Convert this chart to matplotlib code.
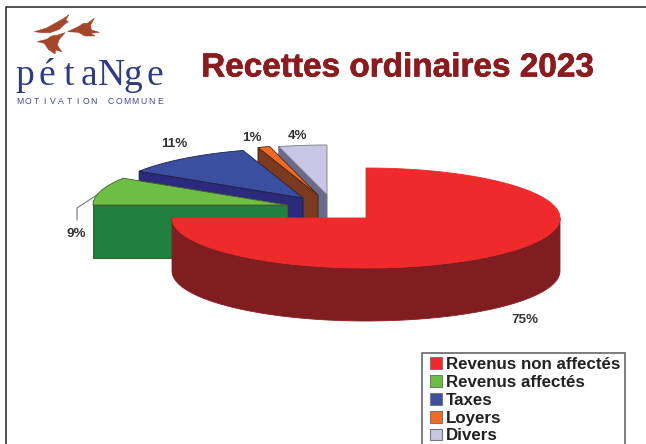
import numpy as np
import matplotlib
matplotlib.use("Agg")
import matplotlib.pyplot as plt
import matplotlib.patheffects as pe
from matplotlib.patches import Polygon, Patch, Rectangle
from matplotlib.legend_handler import HandlerPatch

categories = ["Revenus non affectés", "Revenus affectés", "Taxes", "Loyers", "Divers"]
values = [75, 9, 11, 1, 4]
top_colors = ["#ee2a2a", "#6fbe44", "#3a4fa0", "#f26a25", "#c8c6e4"]
side_colors = ["#7f1d20", "#1f8040", "#2b2a7c", "#7c3a1f", "#6a6a8a"]
edge_colors = ["#8a2022", "#3f5f33", "#22224a", "#4a2a18", "#77778a"]
apex_x = [366, 287, 303, 318, 327]
apex_y = [218, 205, 198, 195, 195]
label_xy = [(525, 319.5), (76, 233.5), (174, 143.5), (252, 137.5), (297, 135.5)]
title = "Recettes ordinaires 2023"

RX, RY, DEPTH = 194, 50, 53
plt.rcParams["font.family"] = ["Liberation Sans", "DejaVu Sans"]

fig = plt.figure(figsize=(6.46, 4.44), dpi=100)
ax = fig.add_axes([0, 0, 1, 1])
ax.set_xlim(0, 646)
ax.set_ylim(444, 0)
ax.axis("off")

# frame: left and top only, running off the picture
ax.plot([6, 6, 646], [444, 7.5, 7.5], color="#333333", lw=1.2, zorder=1)

angles = 360 * np.cumsum([0] + values) / sum(values)


def arc(i, a0, a1):
    t = np.radians(np.linspace(a0, a1, 200))
    return apex_x[i] + RX * np.sin(t), apex_y[i] - RY * np.cos(t)


for i in range(len(values) - 1, -1, -1):
    a0, a1 = angles[i], angles[i + 1]
    z = 10 + (len(values) - i) * 2
    x, y = arc(i, a0, a1)
    cx, cy = apex_x[i], apex_y[i]
    if i == 0:
        # curved outer wall of the big front slice
        xr, yr = arc(i, 90, 270)
        ax.add_patch(Polygon(np.r_[np.c_[xr, yr], np.c_[xr[::-1], yr[::-1] + DEPTH]],
                             fc=side_colors[i], ec=edge_colors[i], lw=0.6, zorder=z))
    else:
        # cut face running from the apex to the start of the arc
        ax.add_patch(Polygon([(cx, cy), (x[0], y[0]), (x[0], y[0] + DEPTH), (cx, cy + DEPTH)],
                             fc=side_colors[i], ec=edge_colors[i], lw=0.8, zorder=z))
    ax.add_patch(Polygon(np.r_[[(cx, cy)], np.c_[x, y]], fc=top_colors[i],
                         ec=edge_colors[i] if i else top_colors[i], lw=0.6, zorder=z + 1))

for v, (lx, ly) in zip(values, label_xy):
    ax.text(lx, ly, f"{v}%", ha="center", va="center", fontsize=9.6, fontweight="bold",
            color="#333333", zorder=30)
ax.plot([103, 77, 77], [191, 208, 220], color="#777777", lw=0.8, zorder=5)

ax.text(398, 68, title, ha="center", va="center", fontsize=24, fontweight="bold",
        color="#8a1c20", zorder=30,
        path_effects=[pe.withStroke(linewidth=0.5, foreground="#8a1c20")])

# logo
birds = [
    [(103, 95), (140, 84), (165, 70), (190, 56), (207, 44), (197, 60), (205, 65), (192, 74), (178, 88), (150, 98), (125, 98)],
    [(203, 95), (235, 80), (250, 70), (262, 70), (283, 55), (272, 75), (274, 90), (298, 97), (272, 100), (285, 108), (255, 108), (235, 97)],
    [(112, 125), (140, 118), (155, 108), (170, 106), (195, 98), (178, 118), (172, 135), (185, 155), (167, 150), (165, 162), (145, 148), (133, 130)],
]
for b in birds:
    ax.add_patch(Polygon(np.array(b) / 3, fc="#a5452a", ec="#a5452a", lw=0.4, zorder=20))
for ch, x in zip("pétaNge", [25, 47, 69, 89, 111, 133, 155]):
    ax.text(x, 76, ch, ha="center", va="center", family="Liberation Serif", fontsize=27,
            color="#2f3a80", zorder=20)
for ch, x in zip("MOTIVATION COMMUNE", np.linspace(19.5, 160, 18)):
    ax.text(x, 101, ch, ha="center", va="center", fontsize=6.2, color="#3f4a8a", zorder=20)


def square(legend, orig_handle, xdescent, ydescent, width, height, fontsize):
    side = 8.6  # 12 px in points
    return Rectangle((2.7 - xdescent, (height - side) / 2 - ydescent), side, side)


handles = [Patch(fc=c, ec="#777777", lw=0.8) for c in top_colors]
leg = ax.legend(handles, categories, loc="upper left", bbox_to_anchor=(422 / 646, 1 - 353 / 444),
                bbox_transform=fig.transFigure, frameon=True, fancybox=False, framealpha=1,
                edgecolor="#666666", borderaxespad=0, prop={"size": 12.2, "weight": "bold"},
                labelspacing=0.165, handlelength=0.95, handleheight=0.7, handletextpad=0.22,
                borderpad=0.25,
                handler_map={Patch: HandlerPatch(patch_func=square)})
leg.get_frame().set_linewidth(1.2)
leg.set_zorder(40)
for t in leg.get_texts():
    t.set_color("#222222")

fig.savefig("out.png", dpi=100)
